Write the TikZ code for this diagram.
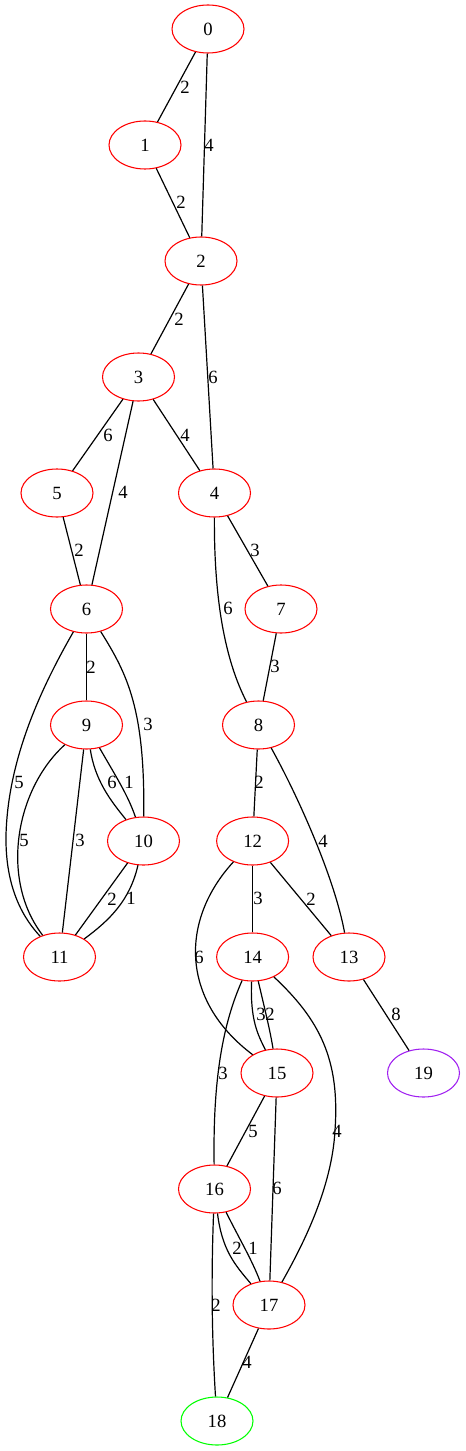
\documentclass[tikz,border=0pt]{standalone}
\usepackage{fontspec}
\setmainfont{Liberation Serif}
\usetikzlibrary{shapes.geometric}
\definecolor{gvred}{HTML}{FF0000}
\definecolor{gvgreen}{HTML}{00FF00}
\definecolor{gvpurple}{HTML}{A020F0}
\begin{document}
\begin{tikzpicture}[x=0.75pt,y=-0.75pt,
  vert/.style={ellipse,draw=gvred,line width=0.8pt,minimum width=54pt,minimum height=36pt,inner sep=0pt,font=\fontsize{14}{16}\selectfont},
  lbl/.style={inner sep=0pt,font=\fontsize{14}{16}\selectfont},
  edge/.style={draw=black,line width=0.9pt}]
\useasboundingbox (0,0) rectangle (465,1451);
\node[vert] (n0) at (208,29) {0};
\node[vert] (n1) at (145,145) {1};
\node[vert] (n2) at (201,261) {2};
\node[vert] (n3) at (138.5,377) {3};
\node[vert] (n4) at (214.5,493) {4};
\node[vert] (n5) at (57,493) {5};
\node[vert] (n6) at (86.5,609) {6};
\node[vert] (n7) at (281,609) {7};
\node[vert] (n8) at (258.5,725) {8};
\node[vert] (n9) at (86.5,725) {9};
\node[vert] (n10) at (143.5,841) {10};
\node[vert] (n12) at (252.6,841) {12};
\node[vert] (n11) at (59.5,957) {11};
\node[vert] (n13) at (349,957) {13};
\node[vert] (n14) at (252.6,957) {14};
\node[vert] (n15) at (277,1073) {15};
\node[vert,draw=gvpurple] (n19) at (423.5,1073) {19};
\node[vert] (n16) at (214.5,1189) {16};
\node[vert] (n17) at (269,1305) {17};
\node[vert,draw=gvgreen] (n18) at (217,1421) {18};
% edges
\draw[edge] (n0) -- (n1);
\draw[edge] (n0) -- (n2);
\draw[edge] (n1) -- (n2);
\draw[edge] (n2) -- (n3);
\draw[edge] (n2) -- (n4);
\draw[edge] (n3) -- (n5);
\draw[edge] (n3) -- (n6);
\draw[edge] (n3) -- (n4);
\draw[edge] (n5) -- (n6);
\draw[edge] (n4) -- (n7);
\draw[edge] (n4) .. controls (214,600) and (225,660) .. (n8);
\draw[edge] (n7) -- (n8);
\draw[edge] (n6) -- (n9);
\draw[edge] (n6) .. controls (128,675) and (145,710) .. (n10);
\draw[edge] (n6) .. controls (40,690) and (8,760) .. (6,835) .. controls (5,890) and (25,920) .. (n11);
\draw[edge] (n9) .. controls (95,780) and (110,800) .. (n10);
\draw[edge] (n9) .. controls (115,775) and (128,795) .. (n10);
\draw[edge] (n9) .. controls (15,790) and (0,880) .. (n11);
\draw[edge] (n9) -- (n11);
\draw[edge] (n10) -- (n11);
\draw[edge] (n10) .. controls (130,900) and (110,920) .. (n11);
\draw[edge] (n8) -- (n12);
\draw[edge] (n8) .. controls (300,800) and (335,880) .. (n13);
\draw[edge] (n12) -- (n14);
\draw[edge] (n12) -- (n13);
\draw[edge] (n12) .. controls (180,920) and (180,1000) .. (n15);
\draw[edge] (n13) -- (n19);
\draw[edge] (n14) .. controls (250,1020) and (258,1035) .. (n15);
\draw[edge] (n14) .. controls (265,1010) and (270,1030) .. (n15);
\draw[edge] (n14) .. controls (220,1030) and (213,1090) .. (n16);
\draw[edge] (n14) .. controls (320,1020) and (340,1060) .. (335,1130) .. controls (332,1190) and (300,1250) .. (n17);
\draw[edge] (n15) -- (n16);
\draw[edge] (n15) -- (n17);
\draw[edge] (n16) .. controls (222,1250) and (235,1265) .. (n17);
\draw[edge] (n16) .. controls (240,1240) and (252,1260) .. (n17);
\draw[edge] (n16) .. controls (211,1280) and (212,1340) .. (n18);
\draw[edge] (n17) -- (n18);
% labels
\node[lbl] (l01) at (185,87) {2};
\node[lbl] (l02) at (209,145) {4};
\node[lbl] (l12) at (181,202) {2};
\node[lbl] (l23) at (179,319) {2};
\node[lbl] (l24) at (213,377) {6};
\node[lbl] (l35) at (108,435) {6};
\node[lbl] (l36) at (123,492) {4};
\node[lbl] (l34) at (185,435) {4};
\node[lbl] (l56) at (79,550) {2};
\node[lbl] (l47) at (255,550) {3};
\node[lbl] (l48) at (228,608) {6};
\node[lbl] (l78) at (275,666) {3};
\node[lbl] (l69) at (91,667) {2};
\node[lbl] (l610) at (148,724) {3};
\node[lbl] (l611) at (19,782) {5};
\node[lbl] (l910a) at (112,782) {6};
\node[lbl] (l910b) at (129,782) {1};
\node[lbl] (l911a) at (24,840) {5};
\node[lbl] (l911b) at (80,840) {3};
\node[lbl] (l1011a) at (112,899) {2};
\node[lbl] (l1011b) at (131,898) {1};
\node[lbl] (l812) at (259,782) {2};
\node[lbl] (l813) at (323,841) {4};
\node[lbl] (l1214) at (258,898) {3};
\node[lbl] (l1213) at (311,899) {2};
\node[lbl] (l1215) at (199,957) {6};
\node[lbl] (l1319) at (396,1014) {8};
\node[lbl] (l1415a) at (261,1014) {3};
\node[lbl] (l1415b) at (270,1014) {2};
\node[lbl] (l1416) at (223,1073) {3};
\node[lbl] (l1417) at (337,1131) {4};
\node[lbl] (l1516) at (253,1131) {5};
\node[lbl] (l1517) at (277,1188) {6};
\node[lbl] (l1617a) at (237,1248) {2};
\node[lbl] (l1617b) at (253,1248) {1};
\node[lbl] (l1618) at (216,1305) {2};
\node[lbl] (l1718) at (247,1362) {4};
\end{tikzpicture}
\end{document}
